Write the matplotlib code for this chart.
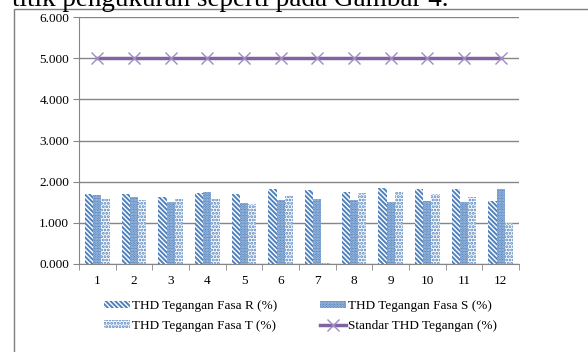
import matplotlib
matplotlib.use("Agg")
import matplotlib.pyplot as plt
import matplotlib.patches as mpatches
from matplotlib.lines import Line2D
import numpy as np

categories = ["1", "2", "3", "4", "5", "6", "7", "8", "9", "10", "11", "12"]
fasa_r = [1.70, 1.70, 1.63, 1.72, 1.70, 1.82, 1.80, 1.76, 1.84, 1.82, 1.82, 1.53]
fasa_s = [1.67, 1.63, 1.50, 1.75, 1.48, 1.55, 1.59, 1.55, 1.50, 1.53, 1.50, 1.82]
fasa_t = [1.57, 1.55, 1.58, 1.59, 1.45, 1.66, 0.03, 1.72, 1.74, 1.69, 1.62, 0.99]
standar = [5.0] * 12
yticks = [0, 1, 2, 3, 4, 5, 6]
ytick_labels = ["0.000", "1.000", "2.000", "3.000", "4.000", "5.000", "6.000"]
labels = ["THD Tegangan Fasa R (%)", "THD Tegangan Fasa S (%)",
          "THD Tegangan Fasa T (%)", "Standar THD Tegangan (%)"]

plt.rcParams['font.family'] = ['Liberation Serif', 'DejaVu Serif']
plt.rcParams['hatch.linewidth'] = 1.4

W, H = 588, 352
fig = plt.figure(figsize=(W / 100, H / 100), dpi=100)

# Partial document text at top (clipped, as in the reference)
fig.text(12 / W, 1 - 6.5 / H, "titik pengukuran seperti pada Gambar 4.",
         fontsize=19.5, va='baseline', ha='left', color='black')

# chart border
border = mpatches.Rectangle((14 / W, -0.1), 2, 1 - 9 / H + 0.1, transform=fig.transFigure,
                            fill=False, edgecolor='#7f7f7f', linewidth=1.0)
fig.patches.append(border)

ax = fig.add_axes([79 / W, 1 - 264 / H, (519 - 79) / W, (264 - 17) / H])

blue = '#4F81BD'
x = np.arange(len(categories))
bw = 0.227
style_r = dict(facecolor='white', edgecolor=blue, hatch='\\' * 7, linewidth=0)
style_s = dict(facecolor=blue, edgecolor='#b4cae6', hatch='.' * 6, linewidth=0)
style_t = dict(facecolor='white', edgecolor=blue, hatch='.' * 5, linewidth=0)
ax.bar(x - bw, fasa_r, bw, **style_r, zorder=3)
ax.bar(x, fasa_s, bw, **style_s, zorder=3)
ax.bar(x + bw, fasa_t, bw, **style_t, zorder=3)
ax.plot(x, standar, color='#8064A2', linewidth=2.5, zorder=4)
ax.plot(x, standar, linestyle='none', marker='x', markersize=8, markeredgewidth=1.0,
        color='#a08cc4', zorder=5)

ax.set_xlim(-0.5, len(categories) - 0.5)
ax.set_ylim(0, 6)
ax.set_yticks(yticks)
ax.set_yticklabels(ytick_labels)
ax.set_xticks(x)
ax.set_xticklabels(categories)
ax.set_xticks(np.arange(-0.5, len(categories)), minor=True)
ax.tick_params(axis='x', which='major', length=0, pad=8, labelsize=9.5)
ax.tick_params(axis='x', which='minor', length=4, color='#868686', direction='out')
ax.tick_params(axis='y', which='major', length=4, color='#868686', labelsize=9.5, pad=3)
ax.grid(axis='y', color='#868686', linewidth=1.0, zorder=0)
ax.set_axisbelow(True)
for s in ['top', 'right']:
    ax.spines[s].set_visible(False)
ax.spines['left'].set_color('#868686')
ax.spines['bottom'].set_color('#868686')

h_r = mpatches.Patch(**style_r)
h_s = mpatches.Patch(**style_s)
h_t = mpatches.Patch(**style_t)
h_std = Line2D([], [], color='#8064A2', linewidth=2.5, marker='x', markersize=8,
               markeredgecolor='#a08cc4', markeredgewidth=1.0)
# ncol=2 fills column-wise: order so rows read R, S / T, Standar
fig.legend([h_r, h_t, h_s, h_std], [labels[0], labels[2], labels[1], labels[3]],
           loc='upper left', bbox_to_anchor=(104 / W, 1 - 300 / H),
           ncol=2, frameon=False, fontsize=9.5, borderpad=0, borderaxespad=0,
           handlelength=2.0, handleheight=0.5, handletextpad=0.15,
           columnspacing=3.2, labelspacing=0.6)

fig.savefig("out.png", dpi=100)
